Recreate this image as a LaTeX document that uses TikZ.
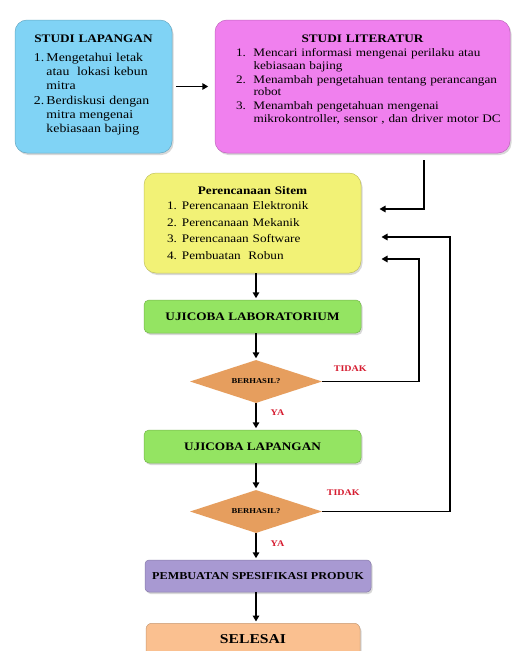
\documentclass[tikz,border=0pt]{standalone}
\usepackage{fontspec}
\setmainfont{Liberation Serif}[FakeStretch=1.15]
\usetikzlibrary{positioning,shapes.geometric,arrows.meta,shadows}

\definecolor{lapblue}{RGB}{128,211,245}
\definecolor{litpink}{RGB}{240,128,238}
\definecolor{planyellow}{RGB}{242,242,118}
\definecolor{testgreen}{RGB}{148,228,98}
\definecolor{askorange}{RGB}{230,158,94}
\definecolor{specpurple}{RGB}{168,153,210}
\definecolor{endorange}{RGB}{250,192,144}
\definecolor{nored}{RGB}{214,28,48}

\newcommand{\flowitem}[3]{\par\noindent\hangindent=#1\hangafter=1\makebox[#1][l]{#2}#3\par}

\tikzset{
  flow/.style={
    x=1pt, y=-1pt,
    every node/.style={inner sep=0pt, font=\fontsize{11.5}{12.5}\selectfont},
    card/.style={
        rectangle,
        rounded corners=12pt,
        fill=##1,
        draw=##1!80!black,
        line width=0.5pt,
        drop shadow={opacity=0.3, shadow xshift=1.5pt, shadow yshift=-2pt},
    },
    bar/.style={
        card=##1,
        rounded corners=5pt,
        minimum width=217pt,
        minimum height=33pt,
        font=\bfseries\fontsize{11.5}{12.5}\selectfont,
    },
    ask/.style={
        diamond,
        aspect=3,
        fill=askorange,
        minimum width=132pt,
        minimum height=43pt,
        font=\bfseries\fontsize{7.5}{8}\selectfont,
    },
    answer/.style={text=nored, font=\bfseries\fontsize{8.7}{9}\selectfont},
    arr/.style={-{Triangle[length=6pt,width=6.5pt]}, line width=1.8pt, shorten >=1.5pt}
  }
}

\begin{document}
\begin{tikzpicture}[flow]
        \useasboundingbox[fill=white] (0,0) rectangle (512,651);

        % studi lapangan dan studi literatur
        \node[card=lapblue, minimum width=157pt, minimum height=133pt,
              text width=119pt, inner xsep=19pt] (lap) at (93.5,86.5) {
            {\centering\bfseries STUDI LAPANGAN\par}
            \vspace{4.4pt}
            \fontsize{12}{14.3}\selectfont
            \flowitem{12.5pt}{1.}{Mengetahui letak\newline atau\ \ lokasi kebun\newline mitra}
            \flowitem{12.5pt}{2.}{Berdiskusi dengan\newline mitra mengenai\newline kebiasaan bajing}
            \vspace{3pt}\hrule height 0pt
        };
        \node[card=litpink, minimum width=295pt, minimum height=133pt,
              text width=286pt, inner xsep=4.5pt] (lit) at (362.5,86.5) {
            {\centering\bfseries STUDI LITERATUR\par}
            \vspace{0.6pt}
            \parskip=1.5pt
            \leftskip=16.5pt
            \flowitem{17.5pt}{1.}{Mencari informasi mengenai perilaku atau\newline kebiasaan bajing}
            \flowitem{17.5pt}{2.}{Menambah pengetahuan tentang perancangan\newline robot}
            \flowitem{17.5pt}{3.}{Menambah pengetahuan mengenai\newline mikrokontroller, sensor , dan driver motor DC}
            \vspace{14pt}\hrule height 0pt
        };

        % perencanaan
        \node[card=planyellow, minimum width=217pt, minimum height=100pt,
              text width=171pt, inner xsep=23pt] (plan) at (252.5,223) {
            {\centering\bfseries Perencanaan Sitem\par}
            \vspace{-1.5pt}
            \fontsize{11.5}{16.5}\selectfont
            \flowitem{15pt}{1.}{Perencanaan Elektronik}
            \flowitem{15pt}{2.}{Perencanaan Mekanik}
            \flowitem{15pt}{3.}{Perencanaan Software}
            \flowitem{15pt}{4.}{Pembuatan\ \ Robun}
        };

        % ujicoba
        \node[bar=testgreen] (lab) at (252.5,316.5) {UJICOBA LABORATORIUM};
        \node[ask] (d1) at (256,381.5) {BERHASIL?};
        \node[bar=testgreen] (ujilap) at (252.5,446.5) {UJICOBA LAPANGAN};
        \node[ask] (d2) at (256,511.5) {BERHASIL?};
        \node[card=specpurple, rounded corners=4pt, minimum width=226pt, minimum height=32pt,
              font=\bfseries\fontsize{10.6}{11}\selectfont] (spec) at (258,576) {PEMBUATAN SPESIFIKASI PRODUK};
        \node[card=endorange, rounded corners=6pt, minimum width=214pt, anchor=north,
              inner ysep=5pt, text height=15pt, text depth=25pt,
              font=\bfseries\fontsize{13.6}{14}\selectfont] (sel) at (253,623) {SELESAI};

        \node[answer, above right=10pt and 11.5pt of d1.east] (no1) {TIDAK};
        \node[answer, above right=16pt and 4.5pt of d2.east] (no2) {TIDAK};
        \node[answer, below right=6pt and 14.5pt of d1.south] (ya1) {YA};
        \node[answer, below right=7pt and 14.5pt of d2.south] (ya2) {YA};

        \coordinate (c1) at (424,160);
        \coordinate (in1) at (378,209);
        \coordinate (in2) at (380,237);
        \coordinate (in3) at (380,259);
        \coordinate (r1) at (419,259);
        \coordinate (r2) at (450,237);

        \draw[arr] ([xshift=4pt]lap.east) -- ([xshift=-5pt]lit.west);
        \draw[arr] (c1) |- (in1);
        \draw[arr] (plan.south -| d1.north) -- (lab.north -| d1.north);
        \draw[arr] (lab.south -| d1.north) -- (d1.north);
        \draw[arr] (d1.south) -- (ujilap.north -| d1.south);
        \draw[arr] (ujilap.south -| d2.north) -- (d2.north);
        \draw[arr] (d2.south) -- (spec.north -| d2.south);
        \draw[arr] (spec.south -| d2.south) -- (sel.north -| d2.south);
        \draw[arr] (d1.east) -| (r1) -- (in3);
        \draw[arr] (d2.east) -| (r2) -- (in2);
      \end{tikzpicture}
\end{document}
